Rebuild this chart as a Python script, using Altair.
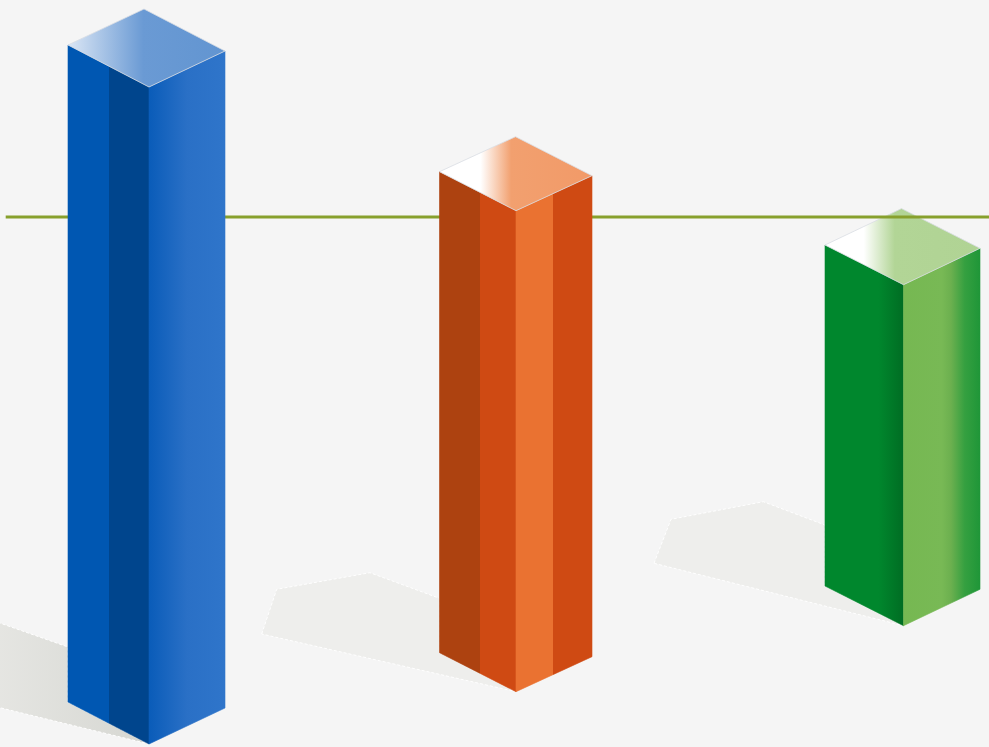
import altair as alt
import pandas as pd

# ---- data ----
categories = ["Blue", "Orange", "Green"]
values = [657, 481, 341]          # bar heights
target = 217                      # reference line level

# ---- layout (isometric prisms) ----
left_x = [68, 439.5, 825]
front_x = [149, 516, 903.5]
right_x = [225, 592, 980]
base_left = [702, 652.7, 586]
base_front = [744, 691.7, 625.7]
base_right = [708, 656.7, 589.3]

# shadow outline offsets relative to (left_x, base_left)
shadow_offsets = [
    [(-108, -93), (0, -55), (0, 0), None, (-108, -4)],
    [(-177.8, -18.7), (-162.8, -63.4), (-69.5, -80), (0, -54.4), (0, 0), None],
    [(-171, -22.7), (-154, -66.7), (-61.7, -84.3), (0, -61), (0, 0), None],
]

def grad(stops):
    return alt.LinearGradient(
        gradient="linear",
        stops=[alt.GradientStop(offset=o, color=c) for o, c in stops],
        x1=0, x2=1, y1=0, y2=0,
    )

face_styles = {
    "Blue": {
        "left": [(0, "#0057b2"), (0.51, "#0057b2"), (0.51, "#00458d"), (1, "#00458d")],
        "right": [(0, "#0a5cb9"), (0.5, "#2a70c6"), (1, "#2f75ca")],
        "top": [(0, "#dce7f5"), (0.48, "#6a9ad4"), (1, "#6295d1")],
    },
    "Orange": {
        "left": [(0, "#ad4210"), (0.53, "#ad4210"), (0.53, "#cf4a13"), (1, "#cf4a13")],
        "right": [(0, "#ea7231"), (0.49, "#ea7231"), (0.49, "#cf4a13"), (1, "#cf4a13")],
        "top": [(0, "#ffffff"), (0.27, "#ffffff"), (0.47, "#f2a06f"), (1, "#f29a68")],
    },
    "Green": {
        "left": [(0, "#00872d"), (0.68, "#00872d"), (1, "#006d23")],
        "right": [(0, "#76b852"), (0.5, "#78b955"), (0.62, "#6cb04f"), (0.8, "#35a040"), (1, "#1f9638")],
        "top": [(0, "#ffffff"), (0.25, "#ffffff"), (0.45, "#b2d596"), (1, "#b0d394")],
    },
}

W, H = 989, 747
xs = alt.Scale(domain=[0, W], nice=False, zero=False)
ys = alt.Scale(domain=[0, H], nice=False, zero=False, reverse=True)

def poly_chart(pts, fill, stroke=None, sw=0.6, dash=None):
    df = pd.DataFrame({"i": list(range(len(pts))),
                       "x": [p[0] for p in pts], "y": [p[1] for p in pts]})
    kw = dict(interpolate="linear-closed", fill=fill, clip=True,
              stroke=stroke if stroke is not None else fill, strokeWidth=sw)
    if dash:
        kw["strokeDash"] = dash
    return alt.Chart(df).mark_line(**kw).encode(
        x=alt.X("x:Q", scale=xs, axis=None),
        y=alt.Y("y:Q", scale=ys, axis=None),
        order=alt.Order("i:Q"),
    )

def bar_layers(k):
    name = categories[k]
    h = values[k]
    L, F, R = left_x[k], front_x[k], right_x[k]
    Lb, Fb, Rb = base_left[k], base_front[k], base_right[k]
    Lt, Ft, Rt = Lb - h, Fb - h, Rb - h
    Bx, By = L + R - F, Lt + Rt - Ft
    st = face_styles[name]
    return [
        poly_chart([(L, Lt), (F, Ft), (F, Fb), (L, Lb)], grad(st["left"])),
        poly_chart([(F, Ft), (R, Rt), (R, Rb), (F, Fb)], grad(st["right"])),
        poly_chart([(L, Lt), (Bx, By), (R, Rt), (F, Ft)], grad(st["top"]),
                   stroke="#d9dde3", sw=0.8),
    ]

def shadow_layer(k):
    L, Lb = left_x[k], base_left[k]
    pts = []
    for o in shadow_offsets[k]:
        if o is None:
            pts.append((front_x[k], base_front[k]))
        else:
            pts.append((L + o[0], Lb + o[1]))
    if k == 0:
        fill = grad([(0, "#e9e9e6"), (1, "#d6d7d2")])
    else:
        fill = "#eeeeec"
    return poly_chart(pts, fill, stroke="#ffffff", sw=1, dash=[3, 2])

line_df = pd.DataFrame({"y": [target], "x": [5.7], "x2": [W]})
ref_line = alt.Chart(line_df).mark_rule(color="#87a02c", strokeWidth=3).encode(
    x=alt.X("x:Q", scale=xs, axis=None),
    x2="x2:Q",
    y=alt.Y("y:Q", scale=ys, axis=None),
)

layers = [shadow_layer(0), shadow_layer(1), shadow_layer(2)]
layers += bar_layers(2)
layers += [ref_line]
layers += bar_layers(0)
layers += bar_layers(1)

chart = alt.layer(*layers).properties(
    width=W, height=H, padding=0,
    autosize=alt.AutoSizeParams(type="none"),
    background="#f5f5f5",
).configure_view(stroke=None)

chart.save("out.html", embed_options={"renderer": "svg", "actions": False})
